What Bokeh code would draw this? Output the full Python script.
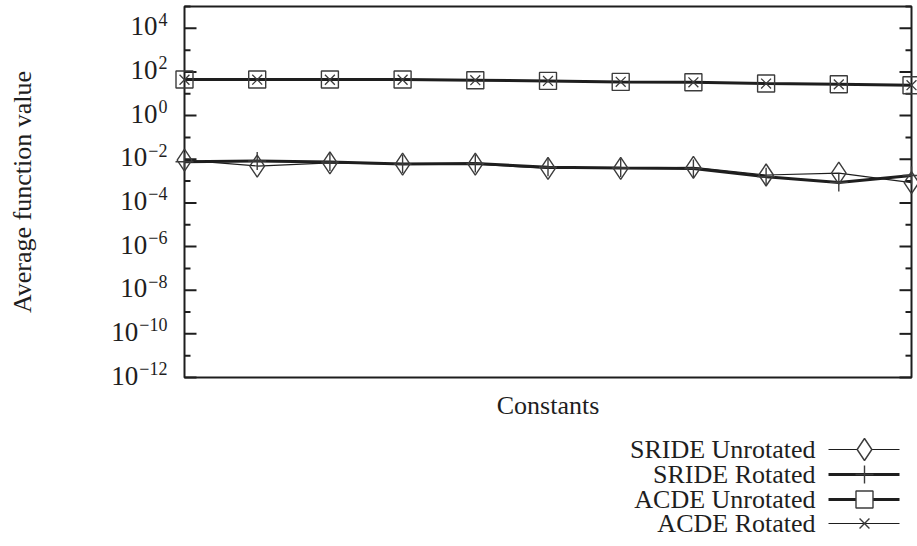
import math
from bokeh.plotting import figure
from bokeh.models import Range1d, ColumnDataSource
from bokeh.embed import file_html
from bokeh.resources import INLINE
from bokeh.core.properties import value

# ---- data ----
constants = [0, 1, 2, 3, 4, 5, 6, 7, 8, 9, 10]
sride_unrotated = [9.2e-3, 4.9e-3, 6.9e-3, 6.0e-3, 6.0e-3, 3.8e-3, 3.8e-3, 4.3e-3, 1.9e-3, 2.3e-3, 8.5e-4]
sride_rotated = [7.7e-3, 8.3e-3, 7.4e-3, 6.0e-3, 6.4e-3, 4.3e-3, 4.0e-3, 3.8e-3, 1.6e-3, 8.7e-4, 1.8e-3]
acde_unrotated = [45, 45, 45, 45, 42, 39, 35, 34, 29.5, 27.4, 24.6]
acde_rotated = [44, 44.5, 44, 44, 42, 39, 35.5, 33.5, 29.5, 27.0, 24.8]
series_names = ["SRIDE Unrotated", "SRIDE Rotated", "ACDE Unrotated", "ACDE Rotated"]
y_tick_exponents = [-12, -10, -8, -6, -4, -2, 0, 2, 4]
y_tick_base = "10"
y_tick_superscripts = ["−12", "−10", "−8", "−6", "−4", "−2", "0", "2", "4"]
y_minor_exponents = [-11, -9, -7, -5, -3, -1, 1, 3, 5]
y_min_exp, y_max_exp = -12, 5
x_label = "Constants"
y_label = "Average function value"

FONT = "Liberation Serif"
INK = "#1e1e1e"
MARK = "#3c3c3c"

# ---- page geometry (pixels) ----
W, H = 917, 546
BL, BR, BT, BB = 184, 911, 6, 377          # plot box
x0, x1 = constants[0], constants[-1]
dx = (x1 - x0) / (BR - BL)                 # data units per pixel (x)
dd = (y_max_exp - y_min_exp) / (BB - BT)   # decades per pixel (y)


def X(px):
    return x0 + (px - BL) * dx


def Y(py):
    return 10.0 ** (y_max_exp - (py - BT) * dd)


major = [float(f"1e{e}") for e in y_tick_exponents]
minor = [float(f"1e{e}") for e in y_minor_exponents]

p = figure(width=W, height=H, title=None, y_axis_type="log",
           x_axis_location=None, y_axis_location=None,
           x_range=Range1d(X(0), X(W)), y_range=Range1d(Y(H), Y(0)),
           output_backend="svg", toolbar_location=None, min_border=0)
p.outline_line_color = None
p.background_fill_color = "white"
p.border_fill_color = "white"
for g in p.grid:
    g.visible = False

# plot box
p.quad(left=[x0], right=[x1], bottom=[10.0 ** y_min_exp], top=[10.0 ** y_max_exp],
       fill_color=None, line_color=INK, line_width=2)

# ticks (inward, both sides)
MAJ, MIN = 12, 6
tick_src = ColumnDataSource(dict(
    y=major + minor + major + minor,
    xa=[x0] * (len(major) + len(minor)) + [x1] * (len(major) + len(minor)),
    xb=[X(BL + MAJ)] * len(major) + [X(BL + MIN)] * len(minor)
       + [X(BR - MAJ)] * len(major) + [X(BR - MIN)] * len(minor),
))
p.segment(x0="xa", y0="y", x1="xb", y1="y", source=tick_src, line_color=INK, line_width=2)

# tick labels: "10" + superscript, right aligned as a whole
SUP_PX, BASE_PX = 18, 27
label_right = 167
sup_w = [sum(0.564 if c == "−" else 0.5 for c in s) * SUP_PX for s in y_tick_superscripts]
lab_src = ColumnDataSource(dict(
    yb=[10.0 ** (e + 2 * dd) for e in y_tick_exponents],
    ys=[10.0 ** (e + 9 * dd) for e in y_tick_exponents],
    base=[y_tick_base] * len(y_tick_exponents),
    sup=y_tick_superscripts,
    xs=[X(label_right)] * len(y_tick_exponents),
    xb=[X(label_right - w - 1) for w in sup_w],
))
p.text(x="xb", y="yb", text="base", source=lab_src, text_align="right", text_baseline="middle",
       text_font=value(FONT), text_font_size=value(f"{BASE_PX}px"), text_color=INK)
p.text(x="xs", y="ys", text="sup", source=lab_src, text_align="right", text_baseline="middle",
       text_font=value(FONT), text_font_size=value(f"{SUP_PX}px"), text_color=INK)

# axis titles
p.text(x=[X(22)], y=[10.0 ** ((y_min_exp + y_max_exp) / 2)], text=[y_label], angle=math.pi / 2,
       text_align="center", text_baseline="middle", text_font=value(FONT),
       text_font_size=value("26px"), text_color=INK)
p.text(x=[(x0 + x1) / 2], y=[Y(405)], text=[x_label], text_align="center",
       text_baseline="middle", text_font=value(FONT), text_font_size=value("26px"),
       text_color=INK)

# ---- data series ----
src = ColumnDataSource(dict(x=constants, su=sride_unrotated, sr=sride_rotated,
                            au=acde_unrotated, ar=acde_rotated))
# ACDE
p.line("x", "ar", source=src, line_width=1.2, line_color=INK)
p.line("x", "au", source=src, line_width=3, line_color=INK)
p.scatter("x", "au", source=src, marker="square", size=17, fill_color=None,
          line_color=MARK, line_width=1.4)
p.scatter("x", "ar", source=src, marker="x", size=14, line_color=MARK, line_width=1.3)
# SRIDE
p.line("x", "su", source=src, line_width=1.2, line_color=INK)
p.line("x", "sr", source=src, line_width=3, line_color=INK)
p.scatter("x", "su", source=src, marker="diamond", size=22, fill_color=None,
          line_color=MARK, line_width=1.4)
p.scatter("x", "sr", source=src, marker="cross", size=18, line_color=MARK, line_width=1.4)

# ---- key (label on the left, sample on the right) ----
rows = [449, 474, 499, 523]
key_src = ColumnDataSource(dict(
    y=[Y(r) for r in rows], name=series_names,
    lw=[1.2, 3, 3, 1.2],
    marker=["diamond", "cross", "square", "x"],
    size=[22, 18, 17, 14],
    tx=[X(815)] * 4, xa=[X(828)] * 4, xb=[X(899)] * 4, xm=[X(864)] * 4,
))
p.text(x="tx", y="y", text="name", source=key_src, text_align="right", text_baseline="middle",
       text_font=value(FONT), text_font_size=value("26px"), text_color=INK)
p.segment(x0="xa", y0="y", x1="xb", y1="y", source=key_src, line_width="lw", line_color=INK)
p.scatter(x="xm", y="y", marker="marker", size="size", source=key_src,
          fill_color="white", line_color=MARK, line_width=1.4)

open("out.html", "w").write(file_html(p, INLINE))
